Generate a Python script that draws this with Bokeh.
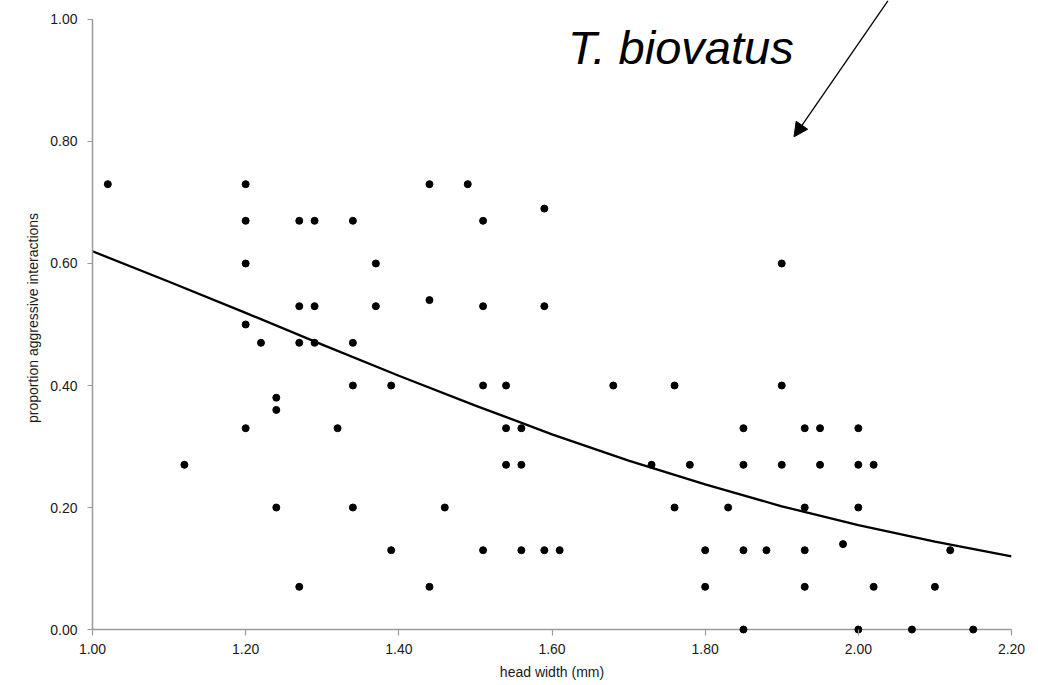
from bokeh.plotting import figure
from bokeh.models import Range1d, FixedTicker, NumeralTickFormatter, Arrow, NormalHead, Label, ColumnDataSource, Span
from bokeh.embed import file_html
from bokeh.resources import INLINE

# ---- data ----
head_width = [
    1.02, 1.12,
    1.20, 1.20, 1.20, 1.20, 1.20,
    1.22,
    1.24, 1.24, 1.24,
    1.27, 1.27, 1.27, 1.27,
    1.29, 1.29, 1.29,
    1.32,
    1.34, 1.34, 1.34, 1.34,
    1.37, 1.37,
    1.39, 1.39,
    1.44, 1.44, 1.44,
    1.46, 1.49,
    1.51, 1.51, 1.51, 1.51,
    1.54, 1.54, 1.54,
    1.56, 1.56, 1.56,
    1.59, 1.59, 1.59,
    1.61, 1.68, 1.73,
    1.76, 1.76,
    1.78,
    1.80, 1.80,
    1.83,
    1.85, 1.85, 1.85, 1.85,
    1.88,
    1.90, 1.90, 1.90,
    1.93, 1.93, 1.93, 1.93,
    1.95, 1.95,
    1.98,
    2.00, 2.00, 2.00, 2.00,
    2.02, 2.02,
    2.07, 2.10, 2.12, 2.15,
]
prop_aggressive = [
    0.73, 0.27,
    0.73, 0.67, 0.60, 0.50, 0.33,
    0.47,
    0.38, 0.36, 0.20,
    0.67, 0.53, 0.47, 0.07,
    0.67, 0.53, 0.47,
    0.33,
    0.67, 0.47, 0.40, 0.20,
    0.60, 0.53,
    0.40, 0.13,
    0.73, 0.54, 0.07,
    0.20, 0.73,
    0.67, 0.53, 0.40, 0.13,
    0.40, 0.33, 0.27,
    0.33, 0.27, 0.13,
    0.69, 0.53, 0.13,
    0.13, 0.40, 0.27,
    0.40, 0.20,
    0.27,
    0.13, 0.07,
    0.20,
    0.33, 0.27, 0.13, 0.00,
    0.13,
    0.60, 0.40, 0.27,
    0.33, 0.20, 0.13, 0.07,
    0.33, 0.27,
    0.14,
    0.33, 0.27, 0.20, 0.00,
    0.27, 0.07,
    0.00, 0.07, 0.13, 0.00,
]

# fitted trend curve
curve_x = [1.0, 1.1, 1.2, 1.3, 1.4, 1.5, 1.6, 1.7, 1.8, 1.9, 2.0, 2.1, 2.2]
curve_y = [0.620, 0.570, 0.519, 0.467, 0.416, 0.367, 0.320, 0.277, 0.238, 0.202, 0.171, 0.144, 0.120]

x_ticks = [1.0, 1.2, 1.4, 1.6, 1.8, 2.0, 2.2]
y_ticks = [0.0, 0.2, 0.4, 0.6, 0.8, 1.0]

title_text = "T. biovatus"
x_label = "head width (mm)"
y_label = "proportion aggressive interactions"

# annotation placement (data units)
title_pos = (1.621, 0.9546)
arrow_start = (2.0388, 1.031)
arrow_end = (1.916, 0.8077)

FONT = "Liberation Sans"
AXIS_GREY = "#9a9a9a"

p = figure(width=1038, height=685, output_backend="svg", toolbar_location=None,
           x_range=Range1d(1.0, 2.2), y_range=Range1d(-0.0098, 1.0311),
           min_border_left=92, min_border_right=27, min_border_top=0, min_border_bottom=50)
p.outline_line_color = None
p.xgrid.visible = False
p.ygrid.visible = False
p.background_fill_color = "white"
p.border_fill_color = "white"

for ax in (p.xaxis[0], p.yaxis[0]):
    ax.axis_line_color = AXIS_GREY
    ax.axis_line_width = 1.5
    ax.major_tick_line_color = AXIS_GREY
    ax.major_tick_line_width = 1.2
    ax.major_tick_out = 5
    ax.major_tick_in = 0
    ax.minor_tick_out = 0
    ax.minor_tick_in = 0
    ax.major_label_text_font = FONT
    ax.major_label_text_font_size = "14px"
    ax.major_label_text_color = "#1a1a1a"
    ax.axis_label_text_font = FONT
    ax.axis_label_text_font_size = "14px"
    ax.axis_label_text_font_style = "normal"
    ax.axis_label_text_color = "#1a1a1a"
    ax.formatter = NumeralTickFormatter(format="0.00")

p.xaxis[0].ticker = FixedTicker(ticks=x_ticks)
p.yaxis[0].ticker = FixedTicker(ticks=y_ticks)
p.yaxis[0].bounds = (0.0, 1.0)
# x axis baseline drawn at y = 0 (frame extends a few px lower so dots at 0 are not clipped)
p.xaxis[0].axis_line_color = None
p.xaxis[0].major_tick_out = 0
p.xaxis[0].major_tick_in = 6
p.xaxis[0].axis_label = x_label
p.yaxis[0].axis_label = y_label
p.xaxis[0].major_label_standoff = 8
p.yaxis[0].major_label_standoff = 10
p.xaxis[0].axis_label_standoff = 7
p.yaxis[0].axis_label_standoff = 6

p.add_layout(Span(location=0.0, dimension="width", line_color=AXIS_GREY,
                  line_width=1.5, level="underlay"))

src = ColumnDataSource(dict(x=head_width, y=prop_aggressive))
p.scatter("x", "y", source=src, size=7, color="black")

p.line(curve_x, curve_y, line_color="black", line_width=2.3)

p.add_layout(Arrow(end=NormalHead(size=14, fill_color="black", line_color="black", line_width=1),
                   x_start=arrow_start[0], y_start=arrow_start[1],
                   x_end=arrow_end[0], y_end=arrow_end[1],
                   line_color="black", line_width=1.3))

p.add_layout(Label(x=title_pos[0], y=title_pos[1], text=title_text,
                   text_font=FONT, text_font_size="47px", text_font_style="italic",
                   text_color="black", text_baseline="alphabetic"))

open("out.html", "w").write(file_html(p, INLINE))
